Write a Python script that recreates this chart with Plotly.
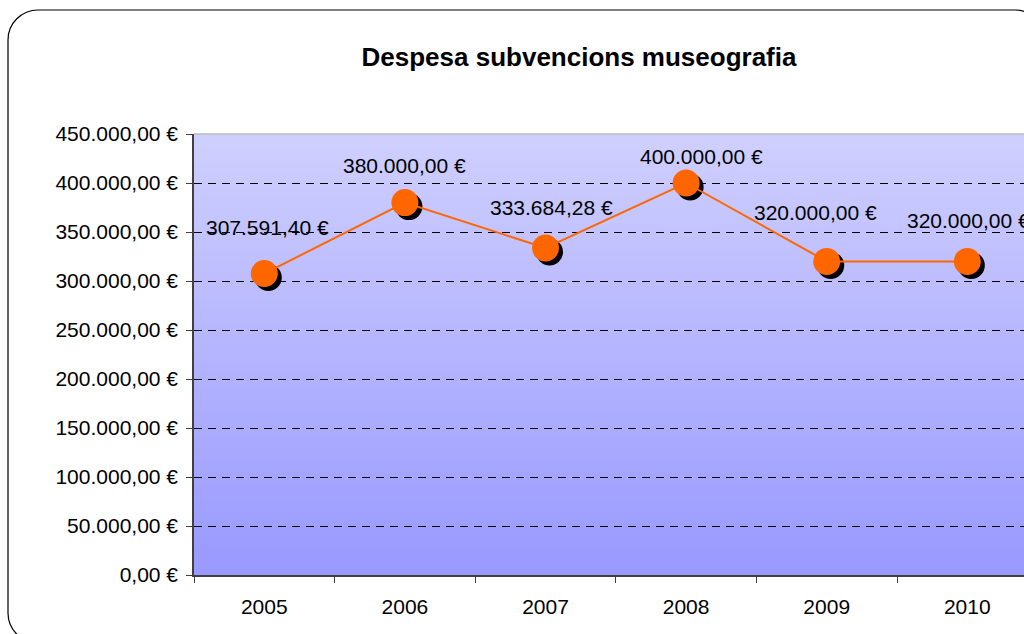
import plotly.graph_objects as go

# ---- data ----
years = ["2005", "2006", "2007", "2008", "2009", "2010"]
values = [307591.40, 380000.00, 333684.28, 400000.00, 320000.00, 320000.00]
y_ticks = [0, 50000, 100000, 150000, 200000, 250000, 300000, 350000, 400000, 450000]
title_text = "Despesa subvencions museografia"

# label offsets (px) for data labels, style only
label_dx = [3, 0, 6, 15, -11, 1]
label_dy = [46, 37, 40, 27, 49, 41]


def eur(v):
    s = f"{v:,.2f}"
    s = s.replace(",", "X").replace(".", ",").replace("X", ".")
    return s + " €"


FONT = "Liberation Sans, Arial, sans-serif"
ORANGE = "#FF6600"

x_idx = list(range(len(years)))

W, H = 1024, 634
ML, MT, MB, MR = 194, 134, 59, 0
plot_w = W - ML - MR
plot_h = H - MT - MB
band = 140.6  # px per category
x_range = [-0.5, -0.5 + plot_w / band]
y_range = [0, 450000]

# shadow offset in px
sh = 4
x_range_sh = [x_range[0] - sh / band, x_range[1] - sh / band]
dy_val = sh / plot_h * (y_range[1] - y_range[0])
y_range_sh = [y_range[0] + dy_val, y_range[1] + dy_val]

fig = go.Figure()

# invisible trace on the base axes so the main subplot (ticks, grid) is drawn
fig.add_trace(go.Scatter(
    x=x_idx, y=values, mode="markers", marker=dict(size=1, opacity=0),
    hoverinfo="skip", showlegend=False,
))
# shadow markers
fig.add_trace(go.Scatter(
    x=x_idx, y=values, xaxis="x2", yaxis="y2", mode="markers",
    marker=dict(size=27, color="black"), hoverinfo="skip", showlegend=False,
))
# line + markers
fig.add_trace(go.Scatter(
    x=x_idx, y=values, xaxis="x3", yaxis="y3", mode="lines+markers",
    line=dict(color=ORANGE, width=2),
    marker=dict(size=27, color=ORANGE), showlegend=False,
))

# gradient background strips
shapes = []
N = 90
c_top = (207, 207, 255)
c_bot = (153, 153, 255)
for i in range(N):
    t = i / (N - 1)
    r = round(c_bot[0] + (c_top[0] - c_bot[0]) * t)
    g = round(c_bot[1] + (c_top[1] - c_bot[1]) * t)
    b = round(c_bot[2] + (c_top[2] - c_bot[2]) * t)
    shapes.append(dict(
        type="rect", xref="paper", yref="paper",
        x0=0, x1=1.05, y0=i / N, y1=min(1, (i + 1.6) / N),
        fillcolor=f"rgb({r},{g},{b})", line=dict(width=0), layer="below",
    ))

# top border of plot area (solid grey)
shapes.append(dict(type="line", xref="paper", yref="paper", x0=0, x1=1.05, y0=1, y1=1,
                   line=dict(color="#BDBDBD", width=1.5), layer="above"))


# rounded outer border (in paper coords)
def px(xp):
    return (xp - ML) / plot_w


def py(yp):
    return (H - MB - yp) / plot_h


L, T, R, B, rad = 8, 10, 1045, 643, 30
k = 0.552 * rad
path = (
    f"M {px(L)},{py(T + rad)} "
    f"C {px(L)},{py(T + rad - k)} {px(L + rad - k)},{py(T)} {px(L + rad)},{py(T)} "
    f"L {px(R - rad)},{py(T)} "
    f"C {px(R - rad + k)},{py(T)} {px(R)},{py(T + rad - k)} {px(R)},{py(T + rad)} "
    f"L {px(R)},{py(B - rad)} "
    f"C {px(R)},{py(B - rad + k)} {px(R - rad + k)},{py(B)} {px(R - rad)},{py(B)} "
    f"L {px(L + rad)},{py(B)} "
    f"C {px(L + rad - k)},{py(B)} {px(L)},{py(B - rad + k)} {px(L)},{py(B - rad)} Z"
)
shapes.append(dict(type="path", xref="paper", yref="paper", path=path,
                   line=dict(color="black", width=1.2), fillcolor="rgba(0,0,0,0)", layer="below"))

annotations = []
for xi, v, dx, dy in zip(x_idx, values, label_dx, label_dy):
    annotations.append(dict(
        x=xi, y=v, xref="x3", yref="y3", text=eur(v), showarrow=False,
        xshift=dx, yshift=dy, font=dict(family=FONT, size=21, color="black"),
    ))

fig.update_layout(
    width=W, height=H,
    margin=dict(l=ML, r=MR, t=MT, b=MB),
    paper_bgcolor="white",
    plot_bgcolor="rgba(0,0,0,0)",
    font=dict(family=FONT, size=20, color="black"),
    title=dict(text=f"<b>{title_text}</b>", x=579 / W, y=1 - 57 / H,
               xref="container", yref="container", xanchor="center", yanchor="middle",
               font=dict(family=FONT, size=26, color="black")),
    xaxis=dict(range=x_range, tickvals=x_idx, ticktext=years,
               showgrid=False, showline=True, linecolor="#404040", linewidth=1.5,
               ticks="", ticklabelstandoff=12,
               minor=dict(tickvals=[i - 0.5 for i in x_idx] + [x_idx[-1] + 0.5],
                          ticks="outside", ticklen=6, tickcolor="#404040", showgrid=False),
               tickfont=dict(family=FONT, size=21, color="black"),
               zeroline=False, fixedrange=True),
    yaxis=dict(range=y_range, tickvals=y_ticks, ticktext=[eur(v) for v in y_ticks],
               showgrid=True, gridcolor="black", gridwidth=1, griddash="8px,6px",
               showline=True, linecolor="#404040", linewidth=1.5,
               ticks="outside", ticklen=6, tickcolor="#404040",
               ticklabelstandoff=4, tickfont=dict(family=FONT, size=21, color="black"),
               zeroline=False, fixedrange=True),
    xaxis2=dict(range=x_range_sh, overlaying="x", visible=False, fixedrange=True),
    yaxis2=dict(range=y_range_sh, overlaying="y", visible=False, fixedrange=True),
    xaxis3=dict(range=x_range, overlaying="x", visible=False, fixedrange=True),
    yaxis3=dict(range=y_range, overlaying="y", visible=False, fixedrange=True),
    shapes=shapes,
    annotations=annotations,
    showlegend=False,
)

fig.write_html(
    "out.html",
    config={"displayModeBar": False},
    post_script="document.body.style.margin='0';document.body.style.overflow='hidden';",
)
